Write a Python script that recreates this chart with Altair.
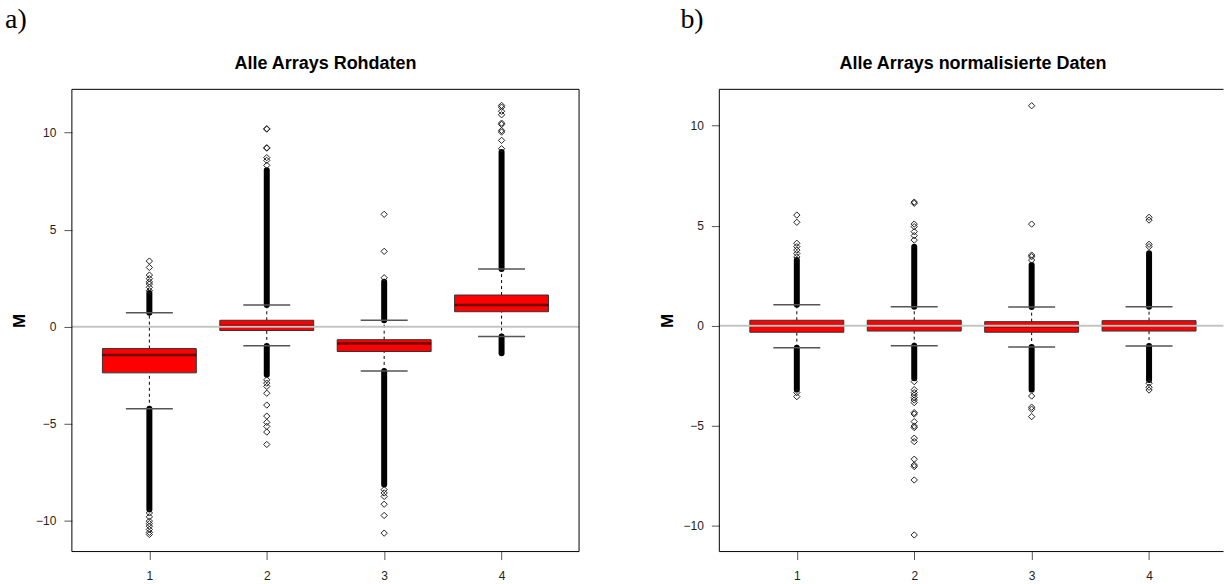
import altair as alt
import pandas as pd

# ---------------- data ----------------
arrays = [1, 2, 3, 4]
x_labels = ["1", "2", "3", "4"]
y_ticks = [-10, -5, 0, 5, 10]

# a) raw data
raw_q1 = [-2.38, -0.20, -1.28, 0.77]
raw_med = [-1.46, 0.03, -0.87, 1.12]
raw_q3 = [-1.13, 0.33, -0.67, 1.63]
raw_wlo = [-4.23, -0.99, -2.28, -0.51]
raw_whi = [0.72, 1.12, 0.33, 2.97]
raw_dense_hi = [1.73, 8.06, 2.31, 9.00]     # end of the solid run of outliers above
raw_dense_lo = [-9.42, -2.48, -8.14, -1.37]  # end of the solid run of outliers below
raw_out = {
    1: [1.85, 2.03, 2.2, 2.31, 2.47, 2.66, 3.05, 3.38,
        -9.6, -9.8, -10.02, -10.15, -10.28, -10.45, -10.6, -10.71],
    2: [8.31, 8.57, 8.71, 9.2, 9.22, 10.18, 10.2,
        -2.74, -2.91, -3.08, -3.43, -4.04, -4.61, -4.93, -5.14, -5.43, -6.07],
    3: [2.52, 3.88, 5.79, -8.4, -8.57, -8.75, -9.15, -9.73, -10.64],
    4: [9.17, 9.6, 10.03, 10.11, 10.42, 10.49, 10.92, 11.1, 11.31, 11.4],
}

# b) normalised data
nrm_q1 = [-0.33, -0.27, -0.33, -0.27]
nrm_med = [0.0, 0.0, -0.03, 0.0]
nrm_q3 = [0.27, 0.27, 0.20, 0.25]
nrm_wlo = [-1.10, -1.00, -1.07, -1.02]
nrm_whi = [1.04, 0.95, 0.93, 0.95]
nrm_dense_hi = [3.28, 3.95, 3.03, 3.62]
nrm_dense_lo = [-3.20, -2.63, -3.20, -2.72]
nrm_out = {
    1: [3.44, 3.61, 3.78, 3.95, 4.12, 5.17, 5.53, -3.35, -3.55],
    2: [4.28, 4.5, 4.7, 4.95, 5.08, 6.12, 6.18,
        -2.8, -3.2, -3.35, -3.47, -3.6, -3.72, -3.85, -4.35, -4.42, -4.8,
        -5.02, -5.1, -5.63, -5.8, -6.68, -6.97, -7.05, -7.72, -10.47],
    3: [3.28, 3.45, 3.53, 5.08, 11.0, -3.52, -4.08, -4.18, -4.55],
    4: [3.95, 4.07, 5.28, 5.42, -2.88, -3.08, -3.22],
}

FONT = "Liberation Sans"
H = 463


def panel(q1, med, q3, wlo, whi, dhi, dlo, outs, xdom, ydom, width,
          title, letter, letter_x, full_frame, anchor):
    boxes = pd.DataFrame({
        "pos": arrays, "q1": q1, "med": med, "q3": q3,
        "wlo": wlo, "whi": whi, "dhi": dhi, "dlo": dlo,
    })
    boxes["left"] = boxes["pos"] - 0.4
    boxes["right"] = boxes["pos"] + 0.4
    boxes["capl"] = boxes["pos"] - 0.2
    boxes["capr"] = boxes["pos"] + 0.2
    pts = pd.DataFrame([{"pos": k, "v": v} for k in arrays for v in outs[k]])

    xs = alt.Scale(domain=xdom, nice=False, zero=False)
    ys = alt.Scale(domain=ydom, nice=False, zero=False)
    xaxis = alt.Axis(values=arrays, format="d", tickSize=8, tickColor="#555",
                     labelFontSize=12, labelFont=FONT, labelColor="#222",
                     labelPadding=11, domain=False, grid=False, title=None,
                     labelExpr="['','1','2','3','4'][datum.value]")
    yaxis = alt.Axis(values=y_ticks, tickSize=8, tickColor="#555",
                     labelFontSize=12, labelFont=FONT, labelColor="#222",
                     labelPadding=8, domain=False, grid=False, title="M",
                     titleFont=FONT, titleFontSize=17, titleFontWeight="bold",
                     titleAngle=270, titleBaseline="middle", titleAlign="center",
                     titleX=-52, titleY=H / 2, titleColor="#000")

    def X(f):
        return alt.X(f, type="quantitative", scale=xs, axis=xaxis)

    def Y(f):
        return alt.Y(f, type="quantitative", scale=ys, axis=yaxis)

    base = alt.Chart(boxes)
    layers = []
    # dashed whiskers
    layers.append(base.mark_rule(color="#000", strokeWidth=1, strokeDash=[3, 3]).encode(
        x=X("pos"), y=Y("q3"), y2="whi"))
    layers.append(base.mark_rule(color="#000", strokeWidth=1, strokeDash=[3, 3]).encode(
        x=X("pos"), y=Y("wlo"), y2="q1"))
    # solid runs of overlapping outliers
    layers.append(base.mark_rule(color="#000", strokeWidth=6, strokeCap="round").encode(
        x=X("pos"), y=Y("whi"), y2="dhi"))
    layers.append(base.mark_rule(color="#000", strokeWidth=6, strokeCap="round").encode(
        x=X("pos"), y=Y("dlo"), y2="wlo"))
    # staples
    layers.append(base.mark_rule(color="#555", strokeWidth=1.5).encode(
        x=X("capl"), x2="capr", y=Y("whi")))
    layers.append(base.mark_rule(color="#555", strokeWidth=1.5).encode(
        x=X("capl"), x2="capr", y=Y("wlo")))
    # boxes
    layers.append(base.mark_rect(color="#ff0000", stroke="#333", strokeWidth=1).encode(
        x=X("left"), x2="right", y=Y("q1"), y2="q3"))
    layers.append(base.mark_rule(color="#6a0000", strokeWidth=2.5).encode(
        x=X("left"), x2="right", y=Y("med")))
    # scattered outliers
    layers.append(alt.Chart(pts).mark_point(shape="diamond", filled=False, color="#222",
                                            strokeWidth=1, size=40, opacity=1).encode(
        x=X("pos"), y=Y("v")))
    # zero line
    zero = alt.Chart(pd.DataFrame({"z": [0]}))
    layers.append(zero.mark_rule(color="#c4c4c4", strokeWidth=2).encode(
        y=Y("z"), x=alt.value(0), x2=alt.value(width)))
    # frame
    one = alt.Chart(pd.DataFrame({"k": [0]}))
    if full_frame:
        layers.append(one.mark_rect(filled=False, stroke="#000", strokeWidth=1).encode(
            x=alt.value(0), x2=alt.value(width), y=alt.value(0), y2=alt.value(H)))
    else:
        layers.append(one.mark_rule(color="#000", strokeWidth=1).encode(
            x=alt.value(0), x2=alt.value(width), y=alt.value(0)))
        layers.append(one.mark_rule(color="#000", strokeWidth=1).encode(
            x=alt.value(0), x2=alt.value(width), y=alt.value(H)))
        layers.append(one.mark_rule(color="#000", strokeWidth=1).encode(
            x=alt.value(0), y=alt.value(0), y2=alt.value(H)))
    # titles
    layers.append(one.mark_text(text=title, font=FONT, fontSize=18, fontWeight="bold",
                                align="center", baseline="alphabetic", color="#000").encode(
        x=alt.value(254), y=alt.value(-20)))
    layers.append(one.mark_text(text=letter, font="Liberation Serif", fontSize=28,
                                align="left", baseline="alphabetic", color="#000").encode(
        x=alt.value(letter_x), y=alt.value(-61)))
    if anchor:
        layers.append(one.mark_rect(opacity=0).encode(
            x=alt.value(-71.5), x2=alt.value(-70.5), y=alt.value(-89), y2=alt.value(-88)))
    return alt.layer(*layers).properties(width=width, height=H)


left = panel(raw_q1, raw_med, raw_q3, raw_wlo, raw_whi, raw_dense_hi, raw_dense_lo,
             raw_out, [0.34, 4.66], [-11.59, 12.23], 508,
             "Alle Arrays Rohdaten", "a)", -67, True, True)
right = panel(nrm_q1, nrm_med, nrm_q3, nrm_wlo, nrm_whi, nrm_dense_hi, nrm_dense_lo,
              nrm_out, [0.34, 4.634], [-11.30, 11.82], 505,
              "Alle Arrays normalisierte Daten", "b)", -39, False, False)

chart = alt.hconcat(left, right, spacing=140.5, bounds="flush").properties(
    padding=0, background="white"
).configure_view(stroke=None)

chart.save("out.html", embed_options={"renderer": "svg", "actions": False})
